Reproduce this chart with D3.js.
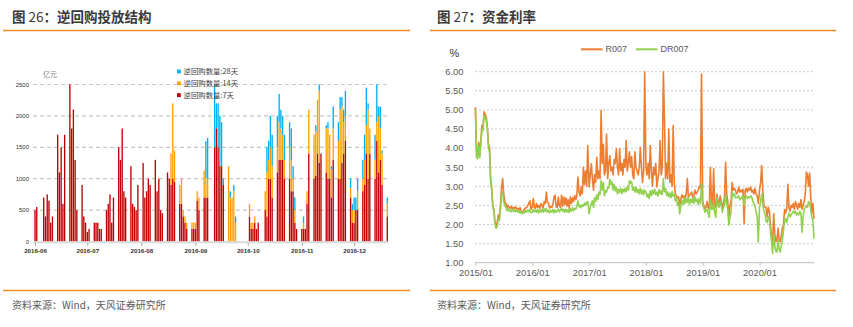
<!DOCTYPE html>
<html>
<head>
<meta charset="utf-8">
<script src="https://cdn.jsdelivr.net/npm/d3@7"></script>
<style>
  html, body { margin: 0; padding: 0; background: #fff; }
  svg { display: block; }
  text { font-family: "Liberation Sans", Arial, sans-serif; }
</style>
</head>
<body>
<svg id="chart" width="853" height="327"></svg>
<script>
// ---------- Figure 26: reverse repo operations (亿元), stacked by tenor ----------
const repoDates = [
  "2016-06-07","2016-06-08",
  "2016-06-12","2016-06-13","2016-06-14","2016-06-15","2016-06-16","2016-06-17",
  "2016-06-20","2016-06-21","2016-06-22","2016-06-23","2016-06-24",
  "2016-06-27","2016-06-28","2016-06-29","2016-06-30","2016-07-01",
  "2016-07-04","2016-07-05","2016-07-06","2016-07-07","2016-07-08",
  "2016-07-11","2016-07-12","2016-07-13","2016-07-14","2016-07-15",
  "2016-07-18","2016-07-19","2016-07-20","2016-07-21","2016-07-22",
  "2016-07-25","2016-07-26","2016-07-27","2016-07-28","2016-07-29",
  "2016-08-01","2016-08-02","2016-08-03","2016-08-04","2016-08-05",
  "2016-08-08","2016-08-09","2016-08-10","2016-08-11","2016-08-12",
  "2016-08-15","2016-08-16","2016-08-17","2016-08-18","2016-08-19",
  "2016-08-22","2016-08-23","2016-08-24","2016-08-25","2016-08-26",
  "2016-08-29","2016-08-30","2016-08-31","2016-09-01","2016-09-02",
  "2016-09-05","2016-09-06","2016-09-07","2016-09-08","2016-09-09",
  "2016-09-12","2016-09-13","2016-09-14",
  "2016-09-18","2016-09-19","2016-09-20","2016-09-21","2016-09-22","2016-09-23",
  "2016-09-26","2016-09-27","2016-09-28","2016-09-29","2016-09-30",
  "2016-10-08","2016-10-09","2016-10-10","2016-10-11","2016-10-12","2016-10-13",
  "2016-10-17","2016-10-18","2016-10-19","2016-10-20","2016-10-21",
  "2016-10-24","2016-10-25","2016-10-26","2016-10-27","2016-10-28",
  "2016-10-31","2016-11-01","2016-11-02","2016-11-03","2016-11-04",
  "2016-11-07","2016-11-08","2016-11-09","2016-11-10","2016-11-11",
  "2016-11-14","2016-11-15","2016-11-16","2016-11-17","2016-11-18",
  "2016-11-21","2016-11-22","2016-11-23","2016-11-24","2016-11-25",
  "2016-11-28","2016-11-29","2016-11-30","2016-12-01","2016-12-02",
  "2016-12-05","2016-12-06","2016-12-07","2016-12-08","2016-12-09",
  "2016-12-12","2016-12-13","2016-12-14","2016-12-15","2016-12-16",
  "2016-12-19","2016-12-20","2016-12-21","2016-12-22","2016-12-23",
  "2016-12-26"
];
const repo7 = [
  500,550,
  700,400,750,650,300,400,
  1700,1100,1500,600,1700,
  2500,1800,2100,1300,500,
  900,400,300,150,200,
  300,300,300,200,200,
  500,600,750,300,700,
  1500,1300,1800,800,700,
  1200,600,550,500,900,
  1250,700,800,1000,900,
  1300,800,1000,500,450,
  1100,1000,900,1000,950,
  600,600,400,300,200,
  200,200,200,650,500,
  700,700,700,
  1500,1800,1500,1200,1200,900,
  0,0,0,0,0,
  400,200,200,300,200,300,
  500,400,1000,1000,700,
  1100,1300,1300,1300,1000,
  1000,800,800,300,200,
  200,200,200,600,1400,
  1000,1050,1400,1250,1400,
  1100,1000,1000,700,1300,
  1000,1000,1250,1400,1600,
  700,300,300,500,500,
  800,900,1400,1000,1400,
  1000,1600,1100,1300,900,
  400
];
const repo14 = [
  0,0,
  0,0,0,0,0,0,
  0,0,0,0,0,
  0,0,0,0,0,
  0,0,0,0,0,
  0,0,0,0,0,
  0,0,0,0,0,
  0,0,0,0,0,
  0,0,0,0,0,
  0,0,0,0,0,
  0,0,0,0,0,
  0,0,500,1200,500,
  300,400,100,100,100,
  100,100,100,150,200,
  430,300,300,
  0,0,0,0,0,0,
  1200,700,700,800,300,
  200,100,100,100,0,0,
  300,700,300,500,500,
  400,600,500,400,300,
  500,500,200,200,0,
  0,100,0,200,700,
  700,700,850,1150,0,
  700,800,700,450,500,
  600,1100,900,500,400,
  150,200,200,0,300,
  200,400,450,1100,400,
  300,300,900,500,500,
  200
];
const repo28 = [
  0,0,
  0,0,0,0,0,0,
  0,0,0,0,0,
  0,0,0,0,0,
  0,0,0,0,0,
  0,0,0,0,0,
  0,0,0,0,0,
  0,0,0,0,0,
  0,0,0,0,0,
  0,0,0,0,0,
  0,0,0,0,0,
  0,0,0,0,0,
  0,0,0,0,0,
  0,0,0,0,0,
  0,600,650,
  1000,400,700,800,700,100,
  0,100,0,100,100,
  0,0,0,0,0,0,
  0,400,300,500,500,
  500,450,300,300,400,
  400,500,200,200,0,
  0,100,0,0,0,
  0,100,0,100,0,
  50,100,0,50,350,
  300,200,150,200,400,
  150,100,200,200,200,
  300,400,600,100,0,
  400,600,150,350,50,
  100
];
const repoTickLabels = ["2016-06","2016-07","2016-08","2016-09","2016-10","2016-11","2016-12"];
const repoYTicks = [0, 500, 1000, 1500, 2000, 2500];
const repoSeries = [
  { key: "d28", name: "逆回购数量:28天", color: "#00b0f0" },
  { key: "d14", name: "逆回购数量:14天", color: "#ffa200" },
  { key: "d7",  name: "逆回购数量:7天",  color: "#c00000" }
];

// ---------- Figure 27: R007 / DR007 (%), weekly readings per year ----------
const rateYears = [2015, 2016, 2017, 2018, 2019, 2020];
const r007_2015 = [5.07,3.9,3.8,4.15,3.8,4.2,4.6,4.55,4.95,4.88,4.8,4.55,4.1,4.0,3.2,2.95,2.5,2.4,2.05,1.95,2.05,2.25,2.15,2.5,2.95,3.2,2.8,2.6,2.55,2.45,2.5,2.45,2.42,2.48,2.4,2.45,2.42,2.46,2.4,2.42,2.38,2.44,2.35,2.33,2.35,2.4,2.44,2.44,2.5,2.55,2.62,2.4];
const r007_2016 = [2.45,2.68,2.45,2.42,2.55,2.45,2.5,2.42,2.55,2.5,2.43,2.6,2.55,2.85,2.58,2.55,2.43,2.47,2.45,2.52,2.72,2.77,2.46,2.45,2.72,2.48,2.45,2.77,2.48,2.72,2.52,2.7,2.48,2.65,2.42,2.72,2.55,2.7,2.6,2.76,2.65,2.75,3.24,2.85,2.75,2.98,2.8,3.5,3.05,3.4,3.0,4.07];
const r007_2017 = [2.98,3.3,3.59,3.2,2.9,3.3,3.1,3.76,3.2,3.4,3.2,4.98,3.6,4.1,3.3,3.4,4.37,3.2,3.6,3.8,3.4,3.5,3.3,3.7,3.6,3.98,3.5,3.3,3.98,3.4,3.6,3.3,3.7,3.5,4.2,3.4,3.6,3.9,3.5,3.78,3.3,3.2,3.9,3.5,3.4,3.3,3.5,4.02,3.5,3.1,3.4,6.0];
const r007_2018 = [3.5,3.3,3.6,3.2,4.07,3.4,3.0,3.5,3.3,3.6,2.98,3.2,3.4,4.2,3.3,3.5,6.0,4.8,3.2,3.6,3.2,4.5,3.1,3.3,3.0,4.59,3.1,2.8,2.75,2.7,2.72,2.5,2.65,2.78,2.7,2.75,2.7,2.8,3.2,2.7,2.76,2.8,2.85,2.7,2.75,2.9,2.8,2.85,2.9,3.0,2.95,5.94];
const r007_2019 = [2.6,2.5,2.4,2.45,2.6,2.45,2.4,3.5,2.6,2.5,3.46,2.5,2.45,2.8,2.6,2.55,2.75,2.6,2.45,2.55,2.7,3.63,2.8,2.6,2.1,2.5,2.6,3.1,2.9,2.95,2.9,2.8,2.85,2.98,2.85,2.9,2.85,2.92,2.02,2.9,2.95,2.85,2.95,2.9,2.98,2.85,2.9,2.8,2.95,2.8,2.75,2.55];
const r007_2020 = [2.9,3.1,3.54,2.9,2.5,2.45,2.45,2.2,2.45,2.35,2.0,1.7,1.5,2.28,1.75,1.55,1.6,1.9,1.6,1.55,1.7,1.9,2.0,2.4,2.3,2.4,3.05,2.45,2.35,2.5,2.45,2.55,2.4,2.6,2.5,2.4,2.55,2.45,2.65,2.4,2.5,2.6,2.8,3.37,3.3,3.0,3.35,2.75,2.3,2.55,2.15];
const dr007_2015 = [5.0,3.75,3.72,4.05,3.75,4.1,4.5,4.45,4.85,4.8,4.72,4.5,4.0,3.9,3.1,2.9,2.45,2.35,2.0,1.9,1.95,2.15,2.1,2.4,2.8,2.85,2.6,2.5,2.45,2.36,2.42,2.35,2.38,2.33,2.4,2.34,2.39,2.33,2.38,2.32,2.36,2.3,2.34,2.28,2.33,2.3,2.37,2.32,2.38,2.33,2.4,2.31];
const dr007_2016 = [2.32,2.4,2.33,2.38,2.32,2.4,2.3,2.38,2.33,2.4,2.32,2.41,2.34,2.42,2.32,2.38,2.3,2.37,2.33,2.4,2.3,2.38,2.32,2.36,2.4,2.33,2.38,2.42,2.34,2.4,2.32,2.4,2.33,2.39,2.31,2.42,2.35,2.44,2.36,2.42,2.4,2.48,2.62,2.46,2.5,2.44,2.52,2.48,2.56,2.5,2.58,2.6];
const dr007_2017 = [2.28,2.45,2.55,2.62,2.45,2.7,2.6,2.78,2.65,2.85,2.78,3.15,2.9,3.1,2.75,2.88,2.85,2.98,2.95,3.18,3.05,3.12,2.9,3.05,2.88,2.97,2.8,2.92,2.84,2.95,2.8,2.93,2.85,2.95,2.86,3.0,2.9,3.15,3.08,3.12,2.9,2.98,2.85,2.97,2.84,2.92,2.8,2.95,2.8,2.9,2.78,2.9];
const dr007_2018 = [2.85,2.72,2.8,2.68,2.88,2.76,2.9,2.8,2.92,2.78,2.85,2.74,2.92,2.8,2.88,2.78,3.2,2.86,2.95,2.76,2.85,2.72,2.82,2.7,2.86,2.74,2.78,2.62,2.7,2.5,2.58,2.28,2.48,2.62,2.52,2.7,2.55,2.68,2.58,2.72,2.52,2.66,2.58,2.7,2.55,2.72,2.6,2.66,2.52,2.68,2.56,3.07];
const dr007_2019 = [2.5,2.45,2.32,2.35,2.4,2.3,2.19,2.65,2.4,2.4,2.55,2.3,2.19,2.7,2.5,2.45,2.6,2.5,2.32,2.45,2.5,2.8,2.55,2.4,1.98,2.2,2.3,2.85,2.75,2.8,2.7,2.7,2.72,2.75,2.65,2.68,2.72,2.75,2.5,2.72,2.75,2.68,2.72,2.7,2.75,2.72,2.6,2.55,2.45,2.35,2.2,1.54];
const dr007_2020 = [2.45,2.6,2.8,2.55,2.35,2.28,2.1,2.05,2.2,2.15,1.85,1.55,1.24,1.75,1.45,1.3,1.28,1.6,1.35,1.28,1.45,1.6,1.85,2.1,2.15,2.05,2.2,2.3,2.2,2.25,2.3,2.35,2.3,2.35,2.25,2.3,2.25,2.35,2.3,1.8,2.2,2.4,2.45,2.5,2.45,2.6,2.55,2.4,2.2,2.1,1.63];
const rateYTicks = [1.0, 1.5, 2.0, 2.5, 3.0, 3.5, 4.0, 4.5, 5.0, 5.5, 6.0];
const rateXTickLabels = ["2015/01","2016/01","2017/01","2018/01","2019/01","2020/01"];
const rateSeries = [
  { name: "R007",  color: "#ed7d31", byYear: [r007_2015, r007_2016, r007_2017, r007_2018, r007_2019, r007_2020] },
  { name: "DR007", color: "#92d050", byYear: [dr007_2015, dr007_2016, dr007_2017, dr007_2018, dr007_2019, dr007_2020] }
];

// ---------- shared page furniture ----------
const svg = d3.select("#chart");
const RULE = "#f28a24";
const cjk = '"Noto Sans CJK SC", "Noto Sans", sans-serif';

function header(x0, x1, tx, num, rest) {
  const t = svg.append("text").attr("x", tx).attr("y", 22)
    .style("font-family", cjk).style("font-size", "13.5px").attr("fill", "#3a3a3a");
  t.append("tspan").style("font-weight", 700).text("图 ");
  t.append("tspan").style("font-weight", 400).text(num);
  t.append("tspan").style("font-weight", 700).text(rest);
  svg.append("line").attr("x1", x0).attr("x2", x1).attr("y1", 30.5).attr("y2", 30.5)
    .attr("stroke", RULE).attr("stroke-width", 1.5);
  svg.append("line").attr("x1", x0).attr("x2", x1).attr("y1", 290.5).attr("y2", 290.5)
    .attr("stroke", RULE).attr("stroke-width", 1.5);
  svg.append("text").attr("x", tx).attr("y", 308.5)
    .style("font-family", cjk).style("font-size", "10px").attr("fill", "#595959")
    .text("资料来源：Wind，天风证券研究所");
}
header(3, 410, 12, "26", "：逆回购投放结构");
header(430, 836, 437, "27", "：资金利率");

// ---------- left chart ----------
{
  const parse = d3.utcParse("%Y-%m-%d");
  const start = parse("2016-06-07");
  const x = d3.scaleUtc().domain([start, parse("2016-12-27")]).range([35, 389]);
  const y = d3.scaleLinear().domain([0, 2500]).range([241.5, 84.5]);
  const g = svg.append("g");

  // dashed gridlines
  g.selectAll("line.grid").data(repoYTicks.filter(v => v > 0)).join("line")
    .attr("x1", 33).attr("x2", 388)
    .attr("y1", d => y(d)).attr("y2", d => y(d))
    .attr("stroke", "#c8c8c8").attr("stroke-width", 1.2).attr("stroke-dasharray", "4,3");

  // y labels
  g.selectAll("text.yl").data(repoYTicks).join("text")
    .attr("x", 29).attr("y", d => y(d) + 2)
    .attr("text-anchor", "end").style("font-size", "6px").attr("fill", "#333")
    .text(d => d);

  g.append("text").attr("x", 43).attr("y", 77).style("font-family", cjk)
    .style("font-size", "7px").attr("fill", "#808080").text("亿元");

  // stacked bars
  const rows = repoDates.map((d, i) => ({ date: parse(d), d7: repo7[i], d14: repo14[i], d28: repo28[i] }));
  const layers = d3.stack().keys(["d7", "d14", "d28"])(rows);
  const colorOf = Object.fromEntries(repoSeries.map(s => [s.key, s.color]));
  const bw = 1.35;
  g.selectAll("g.layer").data(layers).join("g")
    .attr("fill", d => colorOf[d.key])
    .selectAll("rect").data(d => d.filter(p => p[1] > p[0])).join("rect")
      .attr("x", p => x(p.data.date) - bw / 2)
      .attr("width", bw)
      .attr("y", p => y(p[1]))
      .attr("height", p => y(p[0]) - y(p[1]));

  // x axis
  g.append("line").attr("x1", 33).attr("x2", 388).attr("y1", 242.3).attr("y2", 242.3)
    .attr("stroke", "#d9d9d9").attr("stroke-width", 2);
  const tickDates = repoTickLabels.map((_, i) => d3.utcMonth.offset(start, i));
  const axis = d3.axisBottom(x).tickValues(tickDates).tickFormat((d, i) => repoTickLabels[i])
    .tickSize(3).tickPadding(3);
  const ax = g.append("g").attr("transform", "translate(0,243)").call(axis);
  ax.select(".domain").remove();
  ax.selectAll(".tick line").attr("stroke", "#a6a6a6");
  ax.selectAll(".tick text").style("font-size", "6.2px").style("font-weight", 700)
    .style("font-family", '"Liberation Sans", Arial, sans-serif').attr("fill", "#333");

  // legend
  const lg = g.append("g");
  repoSeries.forEach((s, i) => {
    const cy = 71.5 + i * 11.8;
    lg.append("rect").attr("x", 177).attr("y", cy - 1.9).attr("width", 3.8).attr("height", 3.8).attr("fill", s.color);
    lg.append("text").attr("x", 183.5).attr("y", cy + 2.6).style("font-family", cjk)
      .style("font-size", "7.4px").attr("fill", "#404040").text(s.name);
  });
}

// ---------- right chart ----------
{
  const x = d3.scaleUtc().domain([Date.UTC(2015, 0, 1), Date.UTC(2020, 11, 18)]).range([475.4, 814.3]);
  const y = d3.scaleLinear().domain([1, 6]).range([262.7, 71.7]);
  const g = svg.append("g");

  g.selectAll("line.grid").data(rateYTicks.filter(v => v > 1)).join("line")
    .attr("x1", 475).attr("x2", 814)
    .attr("y1", d => y(d)).attr("y2", d => y(d))
    .attr("stroke", "#c4c4c4").attr("stroke-width", 0.9).attr("stroke-dasharray", "2,2");

  g.selectAll("text.yl").data(rateYTicks).join("text")
    .attr("x", 463.5).attr("y", d => y(d) + 3.3)
    .attr("text-anchor", "end").style("font-size", "9.4px").attr("fill", "#595959")
    .text(d => d3.format(".2f")(d));

  g.append("text").attr("x", 449.5).attr("y", 57).style("font-size", "11px").attr("fill", "#333").text("%");

  // x axis
  g.append("line").attr("x1", 475).attr("x2", 814.3).attr("y1", 262.7).attr("y2", 262.7)
    .attr("stroke", "#bfbfbf").attr("stroke-width", 1);
  const yearTicks = rateXTickLabels.map(s => d3.utcParse("%Y/%m")(s));
  const axis = d3.axisBottom(x).tickValues(yearTicks).tickFormat((d, i) => rateXTickLabels[i]).tickSize(3).tickPadding(4);
  const ax = g.append("g").attr("transform", "translate(0,262.7)").call(axis);
  ax.select(".domain").remove();
  ax.selectAll(".tick line").attr("stroke", "#bfbfbf");
  ax.selectAll(".tick text").style("font-size", "9.4px").attr("fill", "#595959")
    .style("font-family", '"Liberation Sans", Arial, sans-serif');

  // lines
  const line = d3.line().x(d => x(d.date)).y(d => y(d.v)).curve(d3.curveLinear);
  rateSeries.forEach(s => {
    const pts = [];
    s.byYear.forEach((vals, yi) => {
      vals.forEach((v, w) => pts.push({ date: new Date(Date.UTC(rateYears[yi], 0, 1 + 7 * w)), v }));
    });
    g.append("path").datum(pts).attr("d", line).attr("fill", "none")
      .attr("stroke", s.color).attr("stroke-width", 1.6).attr("stroke-linejoin", "round");
  });

  // legend
  const lx = [581, 636];
  rateSeries.forEach((s, i) => {
    g.append("line").attr("x1", lx[i]).attr("x2", lx[i] + 21.5).attr("y1", 49.3).attr("y2", 49.3)
      .attr("stroke", s.color).attr("stroke-width", 2);
    g.append("text").attr("x", lx[i] + 24.5).attr("y", 52.4).style("font-size", "9px")
      .attr("fill", "#595959").text(s.name);
  });
}
</script>
</body>
</html>
